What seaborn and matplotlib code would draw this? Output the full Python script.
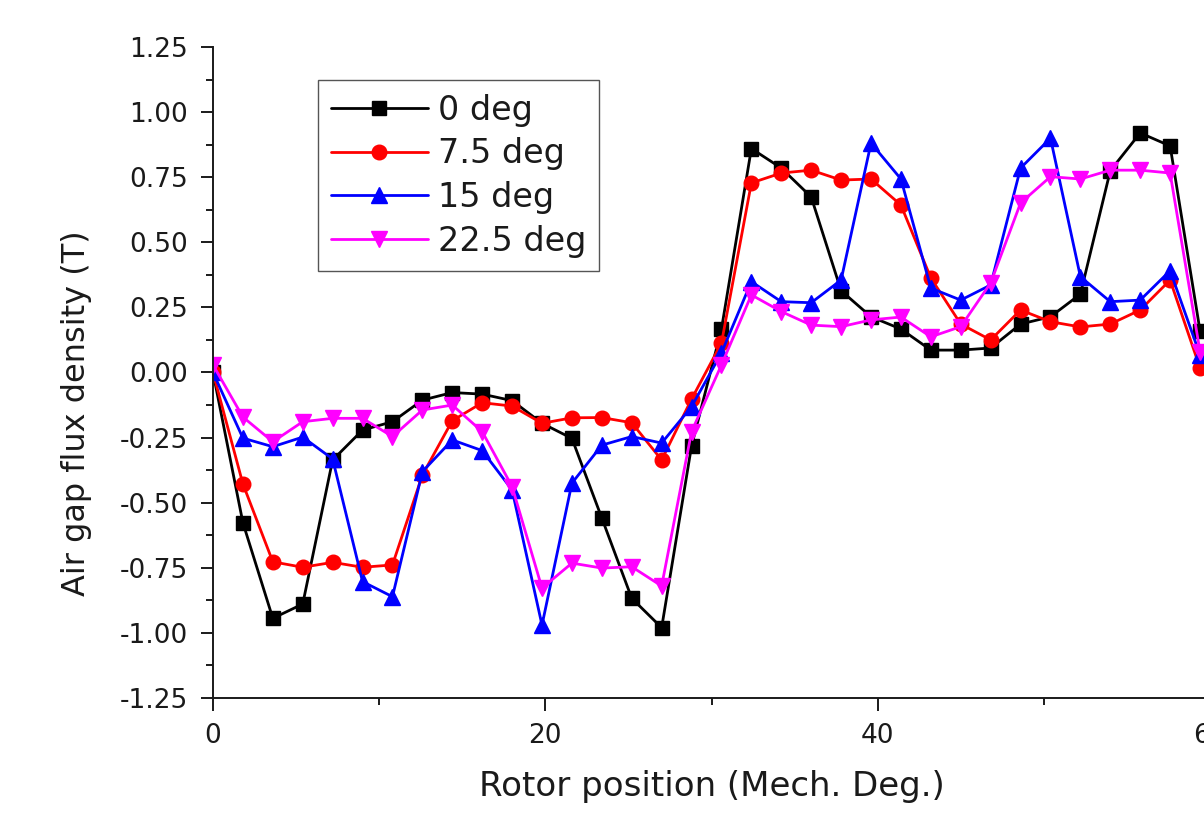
import matplotlib
matplotlib.use("Agg")
import matplotlib.pyplot as plt
from matplotlib.ticker import MultipleLocator, FormatStrFormatter
import pandas as pd
import seaborn as sns

# Rotor position samples (mechanical degrees)
rotor_position = [0.0, 1.8, 3.6, 5.4, 7.2, 9.0, 10.8, 12.6, 14.4, 16.2, 18.0, 19.8,
                  21.6, 23.4, 25.2, 27.0, 28.8, 30.6, 32.4, 34.2, 36.0, 37.8, 39.6,
                  41.4, 43.2, 45.0, 46.8, 48.6, 50.4, 52.2, 54.0, 55.8, 57.6, 59.4]

# Air gap flux density (T) for each skew angle
flux_0deg = [0.0, -0.577, -0.944, -0.889, -0.336, -0.221, -0.189, -0.106, -0.077,
             -0.083, -0.108, -0.195, -0.253, -0.559, -0.867, -0.98, -0.282, 0.167,
             0.86, 0.785, 0.674, 0.314, 0.214, 0.167, 0.086, 0.086, 0.094, 0.186,
             0.214, 0.301, 0.775, 0.92, 0.87, 0.16]
flux_7p5deg = [0.0, -0.428, -0.727, -0.748, -0.729, -0.748, -0.739, -0.394, -0.185,
               -0.116, -0.129, -0.195, -0.174, -0.173, -0.193, -0.336, -0.102, 0.113,
               0.728, 0.766, 0.777, 0.739, 0.743, 0.643, 0.363, 0.186, 0.125, 0.24,
               0.195, 0.175, 0.186, 0.24, 0.355, 0.017]
flux_15deg = [0.0, -0.252, -0.285, -0.248, -0.332, -0.803, -0.861, -0.381, -0.259,
              -0.3, -0.451, -0.97, -0.425, -0.279, -0.246, -0.271, -0.131, 0.075,
              0.349, 0.272, 0.268, 0.355, 0.881, 0.743, 0.324, 0.278, 0.336, 0.785,
              0.9, 0.368, 0.272, 0.278, 0.391, 0.067]
flux_22p5deg = [0.029, -0.171, -0.266, -0.189, -0.176, -0.176, -0.246, -0.144, -0.125,
                -0.227, -0.438, -0.828, -0.732, -0.751, -0.746, -0.82, -0.227, 0.029,
                0.298, 0.234, 0.182, 0.176, 0.202, 0.213, 0.137, 0.176, 0.344, 0.651,
                0.752, 0.743, 0.777, 0.777, 0.766, 0.08]

series_labels = ["0 deg", "7.5 deg", "15 deg", "22.5 deg"]
series_values = [flux_0deg, flux_7p5deg, flux_15deg, flux_22p5deg]
series_colors = ["#000000", "#ff0000", "#0000ff", "#ff00ff"]
series_markers = ["s", "o", "^", "v"]
series_msize = [9.5, 10.5, 12, 12]

x_ticks = [0, 20, 40, 60]
y_ticks = [-1.25, -1.0, -0.75, -0.5, -0.25, 0.0, 0.25, 0.5, 0.75, 1.0, 1.25]

sns.set_style("ticks")
plt.rcParams["font.family"] = ["DejaVu Sans"]
plt.rcParams["axes.unicode_minus"] = False

fig = plt.figure(figsize=(12.04, 8.16), dpi=100)
fig.patch.set_facecolor("white")
ax = fig.add_axes([213 / 1204, 1 - 698 / 816, 997 / 1204, 651 / 816])

frames = []
for label, vals in zip(series_labels, series_values):
    frames.append(pd.DataFrame({"position": rotor_position, "flux": vals, "skew": label}))
data = pd.concat(frames, ignore_index=True)

for label, color, marker, ms in zip(series_labels, series_colors, series_markers, series_msize):
    sns.lineplot(data=data[data["skew"] == label], x="position", y="flux",
                 color=color, marker=marker, markersize=ms,
                 markeredgecolor=color, markerfacecolor=color, markeredgewidth=1,
                 linewidth=2.0, label=label, ax=ax, errorbar=None, sort=False)

ax.set_xlim(x_ticks[0], x_ticks[-1])
ax.set_ylim(y_ticks[0], y_ticks[-1])
ax.set_xticks(x_ticks)
ax.set_yticks(y_ticks)
ax.xaxis.set_minor_locator(MultipleLocator(10))
ax.yaxis.set_minor_locator(MultipleLocator(0.125))
ax.yaxis.set_major_formatter(FormatStrFormatter("%.2f"))

for side in ["top", "right"]:
    ax.spines[side].set_visible(False)
for side in ["left", "bottom"]:
    ax.spines[side].set_linewidth(1.4)
    ax.spines[side].set_color("#1a1a1a")

ax.tick_params(axis="both", which="major", direction="out", length=9, width=1.4,
               color="#1a1a1a", labelsize=19, labelcolor="#1a1a1a")
ax.tick_params(axis="both", which="minor", direction="out", length=5, width=1.4,
               color="#1a1a1a")
ax.tick_params(axis="y", which="major", pad=9)
ax.tick_params(axis="x", which="major", pad=9)

ax.set_xlabel("Rotor position (Mech. Deg.)", fontsize=24.5, color="#1a1a1a")
ax.set_ylabel("Air gap flux density (T)", fontsize=23, color="#1a1a1a")
ax.xaxis.set_label_coords(0.5, -0.11)
ax.yaxis.set_label_coords(-0.121, 0.438)

leg = ax.legend(loc="upper left", bbox_to_anchor=(0.105, 0.949), borderaxespad=0,
                frameon=True, fancybox=False, framealpha=1, edgecolor="#555555",
                fontsize=24, handlelength=2.9, handletextpad=0.3, labelspacing=0.32,
                borderpad=0.4)
leg.get_frame().set_linewidth(1.0)
for text in leg.get_texts():
    text.set_color("#1a1a1a")

fig.savefig("out.png", dpi=100, facecolor="white")
